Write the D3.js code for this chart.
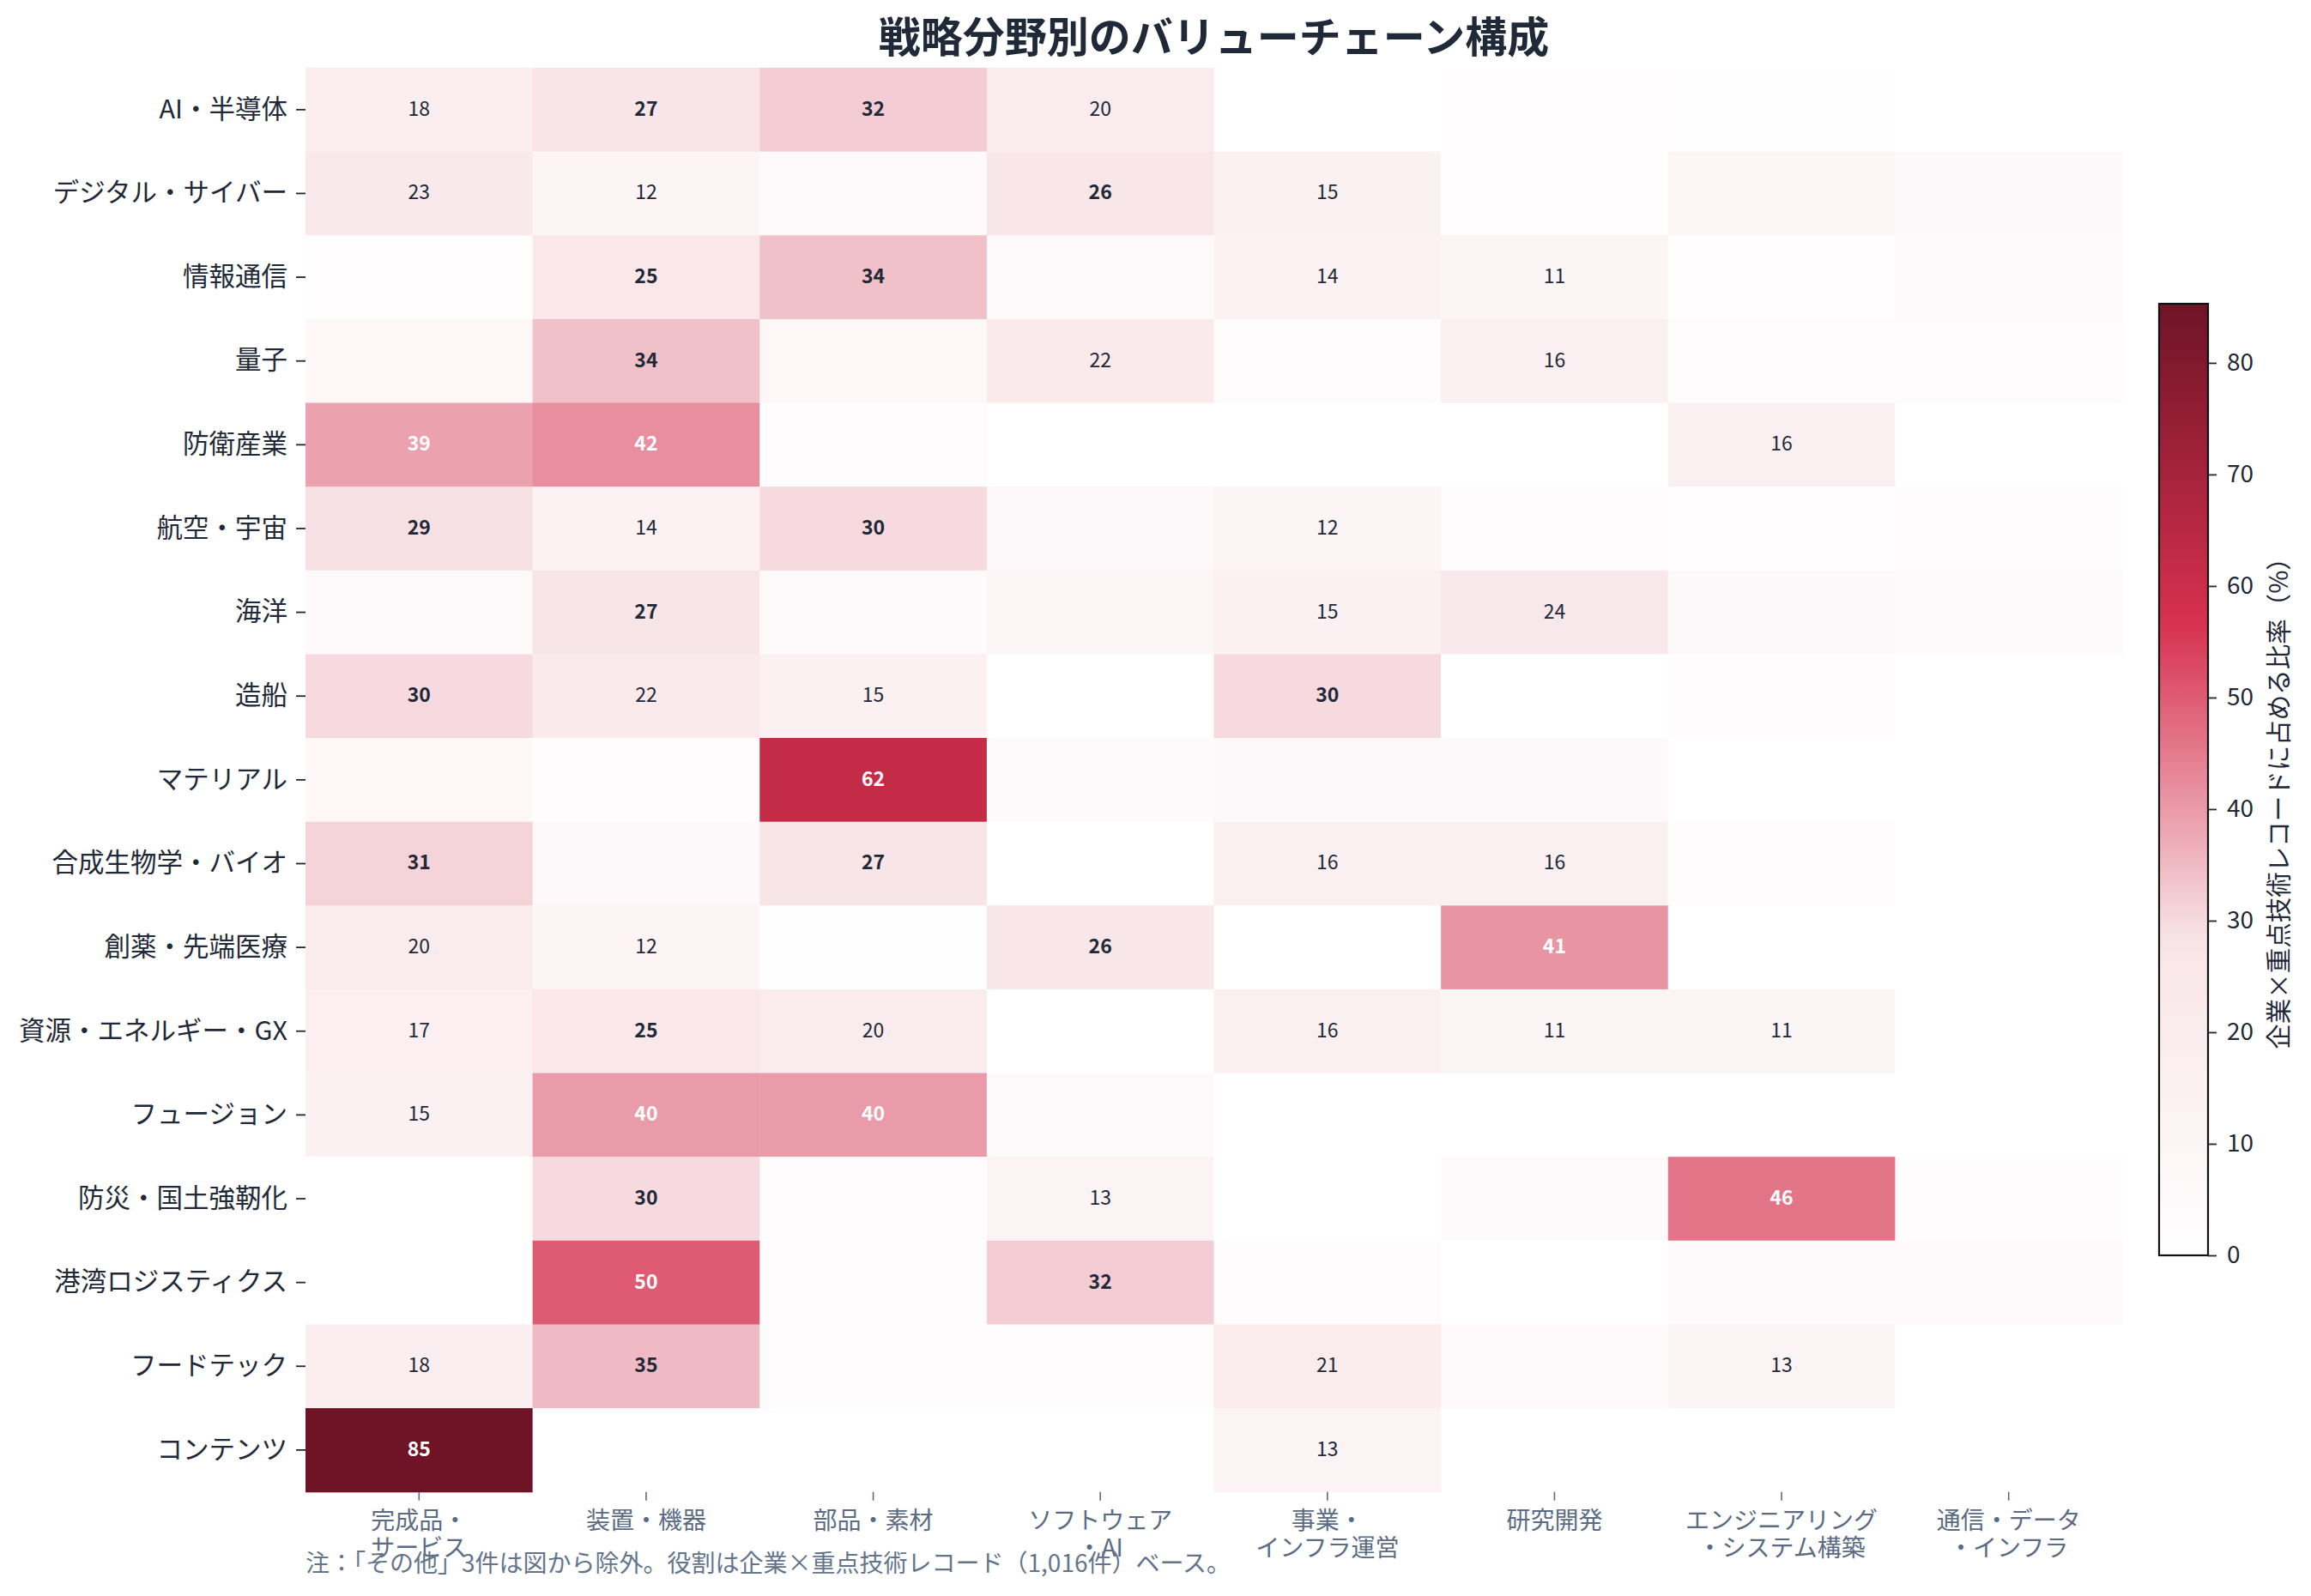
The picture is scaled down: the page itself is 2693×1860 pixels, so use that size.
<!DOCTYPE html>
<html>
<head>
<meta charset="utf-8">
<script src="https://cdn.jsdelivr.net/npm/d3@7"></script>
<style>
  body { margin: 0; background: #ffffff; }
  svg text { font-family: "Noto Sans CJK JP", "Noto Sans", sans-serif; }
</style>
</head>
<body>
<svg id="chart" width="2693" height="1860"></svg>
<script>
// ---------------- data ----------------
const fields = ["AI・半導体", "デジタル・サイバー", "情報通信", "量子", "防衛産業", "航空・宇宙", "海洋", "造船",
  "マテリアル", "合成生物学・バイオ", "創薬・先端医療", "資源・エネルギー・GX", "フュージョン",
  "防災・国土強靭化", "港湾ロジスティクス", "フードテック", "コンテンツ"];

const roleLabels = [
  ["完成品・", "サービス"],
  ["装置・機器"],
  ["部品・素材"],
  ["ソフトウェア", "・AI"],
  ["事業・", "インフラ運営"],
  ["研究開発"],
  ["エンジニアリング", "・システム構築"],
  ["通信・データ", "・インフラ"]
];

// share (%) of company × key-technology records, one row per field, columns follow roleLabels
const values = [
  [18, 27, 32, 20, 0, 2, 1, 0],      // AI・半導体
  [23, 12, 6, 26, 15, 2, 9, 7],      // デジタル・サイバー
  [2, 25, 34, 6, 14, 11, 2, 6],      // 情報通信
  [8, 34, 8, 22, 4, 16, 4, 4],       // 量子
  [39, 42, 3, 0, 0, 0, 16, 0],       // 防衛産業
  [29, 14, 30, 7, 12, 3, 2, 3],      // 航空・宇宙
  [6, 27, 6, 9, 15, 24, 7, 6],       // 海洋
  [30, 22, 15, 0, 30, 0, 3, 0],      // 造船
  [8, 3, 62, 6, 7, 7, 0, 0],         // マテリアル
  [31, 7, 27, 0, 16, 16, 3, 0],      // 合成生物学・バイオ
  [20, 12, 1, 26, 0, 41, 0, 0],      // 創薬・先端医療
  [17, 25, 20, 0, 16, 11, 11, 0],    // 資源・エネルギー・GX
  [15, 40, 40, 5, 0, 0, 0, 0],       // フュージョン
  [0, 30, 3, 13, 0, 5, 46, 3],       // 防災・国土強靭化
  [0, 50, 3, 32, 3, 0, 6, 6],        // 港湾ロジスティクス
  [18, 35, 4, 4, 21, 5, 13, 0],      // フードテック
  [85.3, 0, 0, 0, 13, 0, 0, 0]       // コンテンツ
];

const colorbarTicks = [0, 10, 20, 30, 40, 50, 60, 70, 80];

const titleText = "戦略分野別のバリューチェーン構成";
const colorbarLabel = "企業×重点技術レコードに占める比率（%）";
const noteText = "注：「その他」3件は図から除外。役割は企業×重点技術レコード（1,016件）ベース。";

// ---------------- layout ----------------
const W = 2693, H = 1860;
const plot = { left: 356, right: 2473, top: 79, bottom: 1738.7 };
const cbar = { left: 2516, width: 57, top: 354, bottom: 1463 };
const darkText = "#1f2937";
const axisGray = "#5b6b83";

const svg = d3.select("#chart");
svg.append("rect").attr("width", W).attr("height", H).attr("fill", "#ffffff");

const vmax = d3.max(values.flat());
const color = d3.scaleLinear()
  .domain([0, vmax / 3, 2 * vmax / 3, vmax])
  .range(["#ffffff", "#f8e4e7", "#d6304e", "#6e1426"])
  .interpolate(d3.interpolateRgb)
  .clamp(true);

const x = d3.scaleBand().domain(d3.range(roleLabels.length)).range([plot.left, plot.right]).padding(0);
const y = d3.scaleBand().domain(fields).range([plot.top, plot.bottom]).padding(0);

const cells = [];
values.forEach((row, i) => row.forEach((v, j) => cells.push({ field: fields[i], role: j, value: v })));

// cells
svg.append("g").selectAll("rect").data(cells).join("rect")
  .attr("x", d => x(d.role))
  .attr("y", d => y(d.field))
  .attr("width", x.bandwidth() + 0.6)
  .attr("height", y.bandwidth() + 0.6)
  .attr("fill", d => color(d.value));

// annotations
svg.append("g").selectAll("text").data(cells.filter(d => d.value >= 10)).join("text")
  .attr("x", d => x(d.role) + x.bandwidth() / 2)
  .attr("y", d => y(d.field) + y.bandwidth() / 2 - 3)
  .attr("text-anchor", "middle")
  .attr("dominant-baseline", "central")
  .attr("font-size", 23)
  .attr("font-weight", d => d.value >= 25 ? 700 : 400)
  .attr("fill", d => d.value >= 37 ? "#ffffff" : darkText)
  .text(d => d3.format(".0f")(d.value));

// y axis
const yAxis = svg.append("g")
  .attr("transform", `translate(${plot.left},0)`)
  .call(d3.axisLeft(y).tickSize(11).tickPadding(10));
yAxis.select(".domain").remove();
yAxis.selectAll(".tick line").attr("stroke", darkText).attr("stroke-width", 1.8);
yAxis.selectAll(".tick text").attr("font-size", 30.5).attr("fill", darkText)
  .attr("font-family", '"Noto Sans CJK JP", sans-serif');

// x axis
const xAxis = svg.append("g")
  .attr("transform", `translate(0,${plot.bottom})`)
  .call(d3.axisBottom(x).tickSize(10).tickFormat(""));
xAxis.select(".domain").remove();
xAxis.selectAll(".tick line").attr("stroke", axisGray).attr("stroke-width", 1.6);
xAxis.selectAll(".tick").each(function (j) {
  const t = d3.select(this).append("text")
    .attr("text-anchor", "middle")
    .attr("font-size", 28)
    .attr("fill", axisGray)
    .attr("font-family", '"Noto Sans CJK JP", sans-serif');
  roleLabels[j].forEach((line, k) => {
    t.append("tspan").attr("x", 0).attr("y", 43 + k * 32).text(line);
  });
});

// title
svg.append("text")
  .attr("x", (plot.left + plot.right) / 2)
  .attr("y", 61)
  .attr("text-anchor", "middle")
  .attr("font-size", 49)
  .attr("font-weight", 700)
  .attr("fill", darkText)
  .text(titleText);

// footnote
svg.append("text")
  .attr("x", plot.left)
  .attr("y", 1832)
  .attr("font-size", 28)
  .attr("fill", "#64748b")
  .text(noteText);

// colorbar
const cScale = d3.scaleLinear().domain([0, vmax]).range([cbar.bottom, cbar.top]);
const defs = svg.append("defs");
const grad = defs.append("linearGradient").attr("id", "cbgrad")
  .attr("x1", 0).attr("y1", 1).attr("x2", 0).attr("y2", 0);
d3.range(0, 1.0001, 0.02).forEach(t => {
  grad.append("stop").attr("offset", t).attr("stop-color", color(t * vmax));
});
svg.append("rect")
  .attr("x", cbar.left).attr("y", cbar.top)
  .attr("width", cbar.width).attr("height", cbar.bottom - cbar.top)
  .attr("fill", "url(#cbgrad)")
  .attr("stroke", "#111111").attr("stroke-width", 2.2);

const cAxis = svg.append("g")
  .attr("transform", `translate(${cbar.left + cbar.width},0)`)
  .call(d3.axisRight(cScale).tickValues(colorbarTicks).tickSize(10).tickPadding(12).tickFormat(d3.format("d")));
cAxis.select(".domain").remove();
cAxis.selectAll(".tick line").attr("stroke", darkText).attr("stroke-width", 1.8);
cAxis.selectAll(".tick text").attr("font-size", 28).attr("fill", darkText)
  .attr("font-family", '"Noto Sans CJK JP", sans-serif');

svg.append("text")
  .attr("transform", `translate(2653,929) rotate(-90)`)
  .attr("text-anchor", "middle")
  .attr("dominant-baseline", "central")
  .attr("font-size", 29.5)
  .attr("fill", darkText)
  .text(colorbarLabel);
</script>
</body>
</html>
